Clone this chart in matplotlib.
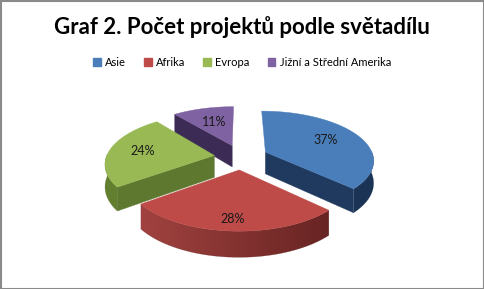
import numpy as np
import matplotlib.pyplot as plt
from matplotlib.colors import to_rgb
from matplotlib.patches import Polygon, Rectangle, Patch

# share of projects per continent (percent)
regions = ['Asie', 'Afrika', 'Evropa', 'Jižní a Střední Amerika']
shares = [37, 28, 24, 11]
top_colors = ['#4a7ebb', '#be4b48', '#98b954', '#7f62a1']
side_colors = ['#1f3a5e', '#8f3533', '#5e7830', '#3c2c55']
wall_light = ['#24436b', '#aa4744', '#62802f', '#45335f']
wall_dark = ['#1b3354', '#5a1d1c', '#566d2a', '#3a2a50']

# pseudo-3d pie geometry (pixels)
CX, CY = 241, 157
RX, RY = 108, 50
DEPTH = 22
Q = 0.15          # perspective: back smaller, front larger
EXPLODE = 0.25


def proj(u, v, drop=0):
    s = 1 - Q * v
    return CX + RX * u * s, CY - RY * v * s + DEPTH * drop * s


def rim(ou, ov, a, drop=0):
    t = np.radians(a)
    return proj(ou + np.cos(t), ov + np.sin(t), drop)


fig = plt.figure(figsize=(4.84, 2.89), dpi=100)
ax = fig.add_axes([0, 0, 1, 1])
ax.axis('off')

# slice angles, clockwise from 12 o'clock
slices = []
start = 90.0
for i, sh in enumerate(shares):
    a1 = start
    a2 = start - 360 * sh / 100
    mid = np.radians((a1 + a2) / 2)
    ou, ov = EXPLODE * np.cos(mid), EXPLODE * np.sin(mid)
    slices.append((i, a1, a2, mid, ou, ov))
    start = a2

z = 1
# back slices first
for i, a1, a2, mid, ou, ov in sorted(slices, key=lambda s: -np.sin(s[3])):
    apex_t = proj(ou, ov)
    apex_b = proj(ou, ov, 1)

    # cut faces turned toward the viewer
    for a, nrm in ((a1, a1 + 90), (a2, a2 - 90)):
        if np.sin(np.radians(nrm)) < -0.05:
            pts = [apex_t, rim(ou, ov, a), rim(ou, ov, a, 1), apex_b]
            ax.add_patch(Polygon(pts, closed=True, fc=side_colors[i],
                                 ec=side_colors[i], lw=0.3, zorder=z))

    # outer wall, front half only, shaded left to right
    angs = np.linspace(a1, a2, 200)
    front = angs[np.sin(np.radians(angs)) < 0.02]
    if len(front) > 1:
        pts = [rim(ou, ov, a) for a in front] + \
              [rim(ou, ov, a, 1) for a in front[::-1]]
        wall = Polygon(pts, closed=True, fc='none', ec='none', zorder=z)
        ax.add_patch(wall)
        xs = [p[0] for p in pts]
        ys = [p[1] for p in pts]
        x0, x1 = min(xs), max(xs)
        # colour follows the wall normal: left side lit, right side dark
        xg = np.linspace(x0, x1, 256)
        cosv = np.interp(xg, [CX - RX * 1.2, CX + RX * 1.2], [-1, 1])
        t = ((cosv + 1) / 2)[None, :, None]
        grad = np.array(to_rgb(wall_light[i]))[None, None, :] * (1 - t) + \
            np.array(to_rgb(wall_dark[i]))[None, None, :] * t
        im = ax.imshow(grad, extent=(x0, x1, max(ys) + 1, min(ys) - 1),
                       aspect='auto', interpolation='bilinear', zorder=z)
        im.set_clip_path(wall)
        ax.add_patch(Polygon(pts, closed=True, fc='none',
                             ec=wall_dark[i], lw=0.3, alpha=0.5, zorder=z))

    # top face
    pts = [apex_t] + [rim(ou, ov, a) for a in angs]
    ax.add_patch(Polygon(pts, closed=True, fc=top_colors[i],
                         ec=top_colors[i], lw=0.3, zorder=z + 0.5))

    r_lab = 0.7 - 0.12 * np.sin(mid)
    lx, ly = proj(ou + r_lab * np.cos(mid), ov + r_lab * np.sin(mid))
    ax.text(lx, ly, f'{shares[i]}%', ha='center', va='center',
            fontsize=9, family='Lato', color='#1a1a1a', zorder=10)
    z += 1

ax.set_xlim(0, 484)
ax.set_ylim(289, 0)

fig.text(0.5, 0.905, 'Graf 2. Počet projektů podle světadílu', ha='center',
         va='center', fontsize=16, fontweight='bold', family='Lato')

handles = [Patch(fc=c, ec=c) for c in top_colors]
fig.legend(handles, regions, loc='center', bbox_to_anchor=(0.5, 0.785),
           ncol=4, frameon=False, prop={'family': 'Lato', 'size': 8},
           handlelength=0.7, handleheight=0.7, handletextpad=0.4,
           columnspacing=1.6)

# chart area frame
ax.add_patch(Rectangle((0.5, 0.5), 483, 288, fill=False, ec='#8a8a8a',
                       lw=1.5, zorder=20))

fig.savefig('out.png', dpi=100)
